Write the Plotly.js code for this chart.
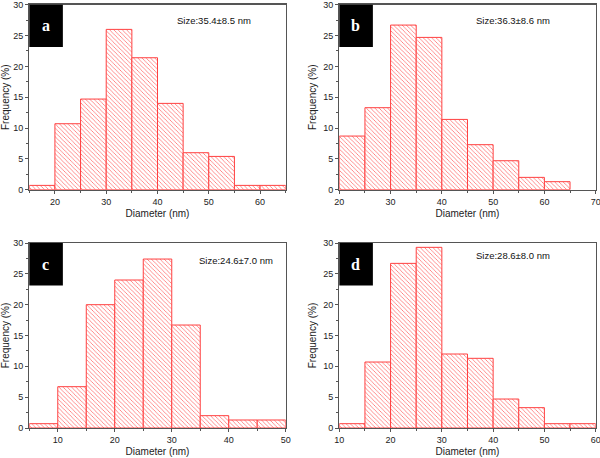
<!DOCTYPE html>
<html><head><meta charset="utf-8">
<script src="https://cdn.plot.ly/plotly-3.0.1.min.js"></script>
<style>html,body{margin:0;padding:0;background:#fff}#chart{width:600px;height:458px}</style>
</head><body><div id="chart"></div>
<script>
// bin left edges (nm), bin width 5 nm, frequencies (%)
const binWidth = 5;
const aBins = [15, 20, 25, 30, 35, 40, 45, 50, 55, 60];
const aFreq = [0.7, 10.7, 14.7, 26.0, 21.4, 14.0, 6.0, 5.4, 0.7, 0.7];
const bBins = [20, 25, 30, 35, 40, 45, 50, 55, 60];
const bFreq = [8.7, 13.3, 26.7, 24.7, 11.4, 7.3, 4.7, 2.0, 1.3];
const cBins = [5, 10, 15, 20, 25, 30, 35, 40, 45];
const cFreq = [0.7, 6.7, 20.0, 24.0, 27.4, 16.7, 2.0, 1.3, 1.3];
const dBins = [10, 15, 20, 25, 30, 35, 40, 45, 50, 55];
const dFreq = [0.7, 10.7, 26.7, 29.3, 12.0, 11.3, 4.7, 3.3, 0.7, 0.7];
const panelLabels = ['a', 'b', 'c', 'd'];
const sizeTexts = ['Size:35.4±8.5 nm', 'Size:36.3±8.6 nm', 'Size:24.6±7.0 nm', 'Size:28.6±8.0 nm'];
const xRanges = [[15, 65], [20, 70], [5, 50], [10, 60]];
const xTitle = 'Diameter (nm)';
const yTitle = 'Frequency (%)';

const bins = [aBins, bBins, cBins, dBins];
const freqs = [aFreq, bFreq, cFreq, dFreq];
const xDomains = [[0.0488, 0.4762], [0.5655, 0.9928], [0.0488, 0.4762], [0.5655, 0.9928]];
const yDomains = [[0.5858, 0.9897], [0.5858, 0.9897], [0.0655, 0.4694], [0.0655, 0.4694]];
const sizePos = [[0.72, 0.912], [0.677, 0.912], [0.806, 0.908], [0.677, 0.93]];

const font = 'Liberation Sans, Arial, sans-serif';
const data = [];
const layout = {
  width: 600, height: 458,
  margin: {l: 0, r: 0, t: 0, b: 0},
  paper_bgcolor: '#fff', plot_bgcolor: '#fff',
  showlegend: false, bargap: 0,
  shapes: [], annotations: []
};

for (let i = 0; i < 4; i++) {
  const sfx = i === 0 ? '' : String(i + 1);
  data.push({
    type: 'bar', x: bins[i], y: freqs[i], width: binWidth, offset: 0,
    xaxis: 'x' + sfx, yaxis: 'y' + sfx,
    marker: {
      color: '#ffffff',
      line: {color: '#ff4040', width: 1},
      pattern: {shape: '\\', fgcolor: '#ff7878', bgcolor: '#ffffff', size: 3, solidity: 0.28}
    },
    hoverinfo: 'skip'
  });
  const axCommon = {
    showgrid: false, zeroline: false, showline: true, mirror: true,
    linecolor: '#555', linewidth: 1.3,
    ticks: 'outside', ticklen: 3, tickwidth: 1, tickcolor: '#555',
    tickfont: {family: font, size: 9, color: '#222'},
    ticklabeloverflow: 'allow',
    automargin: false
  };
  layout['xaxis' + sfx] = Object.assign({}, axCommon, {
    domain: xDomains[i], range: xRanges[i], dtick: 10, tick0: 0,
    anchor: 'y' + sfx,
    minor: {ticks: 'outside', ticklen: 2, dtick: 5, tick0: 0, tickcolor: '#555'},
    title: {text: xTitle, font: {family: font, size: 10, color: '#222'}, standoff: 4}
  });
  layout['yaxis' + sfx] = Object.assign({}, axCommon, {
    domain: yDomains[i], range: [0, 30], dtick: 5, tick0: 0,
    anchor: 'x' + sfx,
    minor: {ticks: 'outside', ticklen: 2, dtick: 2.5, tick0: 0, tickcolor: '#555'},
    title: {text: yTitle, font: {family: font, size: 10, color: '#222'}, standoff: 4}
  });
  layout.shapes.push({
    type: 'rect', xref: 'x' + sfx + ' domain', yref: 'y' + sfx + ' domain',
    x0: 0, x1: 0.131, y0: 0.771, y1: 1,
    fillcolor: '#000', line: {width: 0}
  });
  layout.annotations.push({
    xref: 'x' + sfx + ' domain', yref: 'y' + sfx + ' domain',
    x: 0.065, y: 0.885, xanchor: 'center', yanchor: 'middle',
    text: '<b>' + panelLabels[i] + '</b>', showarrow: false,
    font: {family: 'Liberation Serif, Times New Roman, serif', size: 16, color: '#fff'}
  });
  layout.annotations.push({
    xref: 'x' + sfx + ' domain', yref: 'y' + sfx + ' domain',
    x: sizePos[i][0], y: sizePos[i][1], xanchor: 'center', yanchor: 'middle',
    text: sizeTexts[i], showarrow: false,
    font: {family: font, size: 9.5, color: '#111'}
  });
}

Plotly.newPlot('chart', data, layout, {staticPlot: true, displayModeBar: false});
</script>
</body></html>
